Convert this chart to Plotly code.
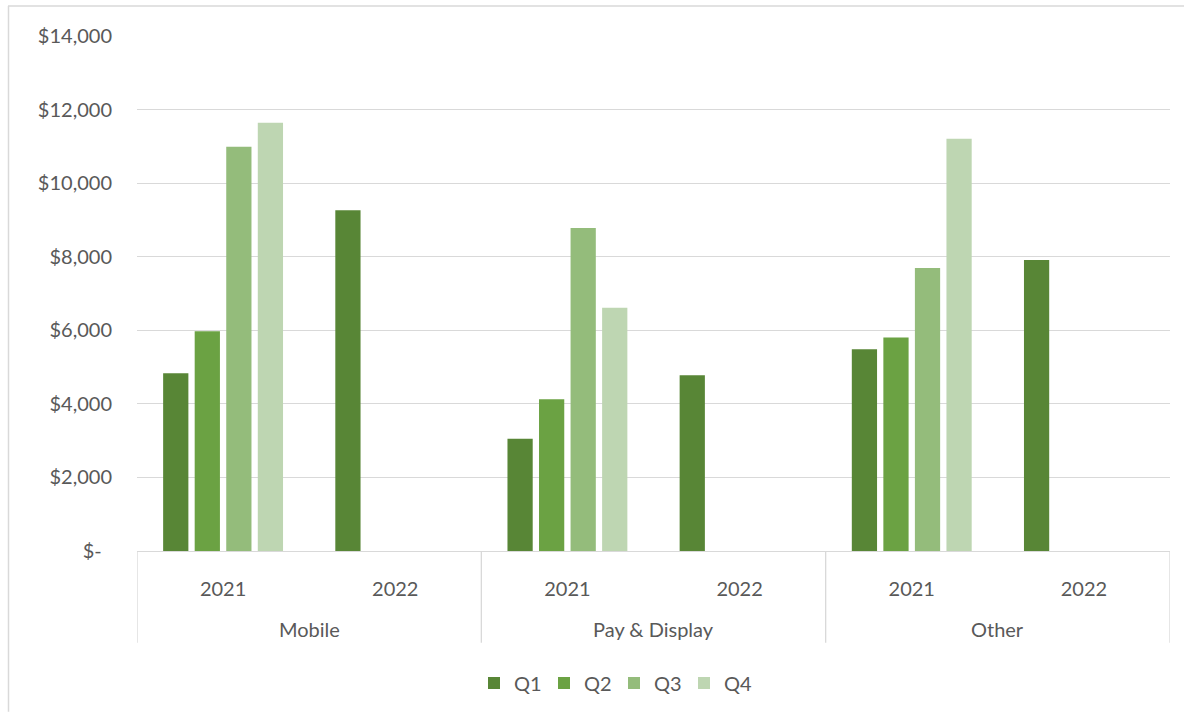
import plotly.graph_objects as go

channels = ["Mobile", "Pay & Display", "Other"]
years = ["2021", "2022"]
quarters = ["Q1", "Q2", "Q3", "Q4"]
# values per quarter, ordered: Mobile 2021, Mobile 2022, P&D 2021, P&D 2022, Other 2021, Other 2022
q1 = [4835, 9263, 3050, 4778, 5486, 7908]
q2 = [5974, None, 4127, None, 5802, None]
q3 = [10990, None, 8778, None, 7691, None]
q4 = [11640, None, 6615, None, 11207, None]
colors = ["#588636", "#6BA243", "#94BC7B", "#BED6B2"]
y_ticks = [0, 2000, 4000, 6000, 8000, 10000, 12000, 14000]
y_ticktext = ["$-  ", "$2,000", "$4,000", "$6,000", "$8,000", "$10,000", "$12,000", "$14,000"]

keys = [f"{c}|{y}" for c in channels for y in years]
year_labels = [y for _ in channels for y in years]

fig = go.Figure()
for name, vals, col in zip(quarters, [q1, q2, q3, q4], colors):
    fig.add_trace(go.Bar(x=keys, y=vals, name=name,
                         marker=dict(color=col, line=dict(width=0))))

font = dict(family="Lato, Open Sans, sans-serif", size=20, color="#595959")
L, R, T, B = 137, 14, 36, 161
W, H = 1184, 713
pw, ph = W - L - R, H - T - B
grid = "#D9D9D9"

fig.update_layout(
    width=W, height=H,
    margin=dict(l=L, r=R, t=T, b=B),
    paper_bgcolor="white", plot_bgcolor="white",
    barmode="group", bargap=0.267, bargroupgap=0.2,
    font=font,
    legend=dict(orientation="h", x=(614 - L) / pw, xanchor="center",
                y=(552 - 683) / ph, yanchor="middle", font=font,
                entrywidth=25, entrywidthmode="pixels", traceorder="normal"),
    showlegend=True,
)
fig.update_yaxes(range=[0, 14000], tickvals=y_ticks, ticktext=y_ticktext,
                 showgrid=True, gridcolor=grid, gridwidth=1.3,
                 zeroline=False, showline=False, ticks="",
                 ticklabelstandoff=24, tickfont=font)
fig.update_xaxes(type="category", range=[-0.5, len(keys) - 0.5],
                 tickvals=keys, ticktext=year_labels,
                 showline=True, linecolor=grid, linewidth=1.3,
                 ticks="", tickfont=font, showgrid=False, ticklabelstandoff=20)

# channel group labels and dividers
for i, ch in enumerate(channels):
    fig.add_annotation(x=2 * i + 0.5, xref="x", y=(552 - 630) / ph, yref="paper",
                       text=ch, showarrow=False, font=font, yanchor="middle")
for b in range(len(channels) + 1):
    fig.add_shape(type="line", xref="x", yref="paper", x0=2 * b - 0.5, x1=2 * b - 0.5,
                  y0=0, y1=(552 - 644) / ph, line=dict(color=grid, width=1.3))

# outer chart border (top and left)
fig.add_shape(type="line", xref="paper", yref="paper",
              x0=(8 - L) / pw, x1=(W - L) / pw, y0=(552 - 6) / ph, y1=(552 - 6) / ph,
              line=dict(color=grid, width=1.5))
fig.add_shape(type="line", xref="paper", yref="paper",
              x0=(8.5 - L) / pw, x1=(8.5 - L) / pw, y0=(552 - 6) / ph, y1=(552 - H) / ph,
              line=dict(color=grid, width=1.5))

fig.write_html("out.html", config={"displayModeBar": False},
               post_script="document.body.style.margin='0';")
